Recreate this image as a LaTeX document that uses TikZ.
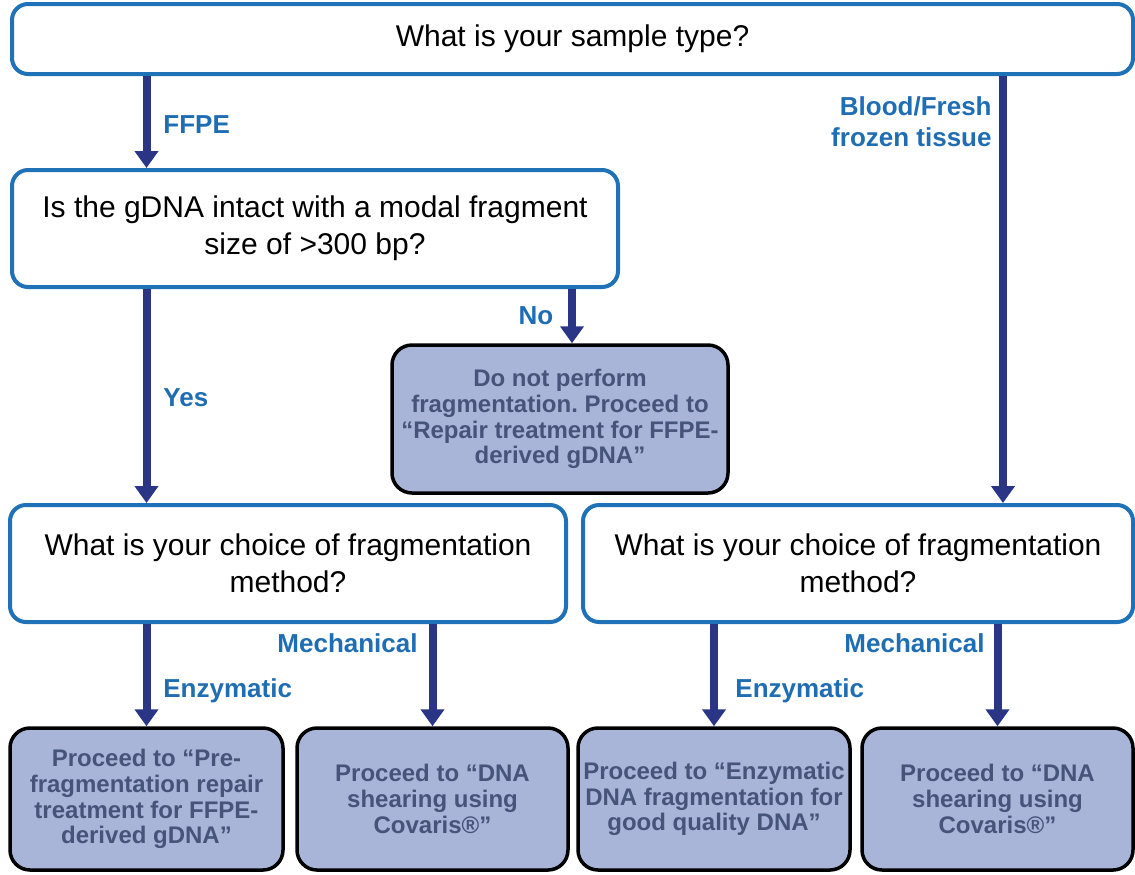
\documentclass[tikz,border=0pt]{standalone}
\usepackage{fontspec}
\setmainfont{Liberation Sans}
\usetikzlibrary{positioning,arrows.meta}
\frenchspacing

\definecolor{qblue}{HTML}{1F72B8}
\definecolor{lblue}{HTML}{1F6DB3}
\definecolor{navy}{HTML}{2B3585}
\definecolor{pfill}{HTML}{A8B4D8}
\definecolor{ptext}{HTML}{47547A}

\tikzset{
  qbox/.style={draw=qblue, line width=2pt, rounded corners=8pt, fill=white,
    align=center, inner sep=0pt, font=\fontsize{15}{18.5}\selectfont},
  pbox/.style={draw=black, line width=1.75pt, rounded corners=10pt, fill=pfill,
    text=ptext, align=center, inner sep=0pt, minimum width=136pt, minimum height=71pt,
    font=\bfseries\fontsize{12}{12.9}\selectfont},
  lbl/.style={text=lblue, inner sep=0pt, font=\bfseries\fontsize{13}{15.5}\selectfont},
  flow/.style={draw=navy, line width=4pt, -{Triangle[width=11.5pt,length=8.5pt]}}
}

\begin{document}
\begin{tikzpicture}[x=0.5pt, y=-0.5pt]
  \useasboundingbox[fill=white] (0,0) rectangle (1135,874);

  % questions
  \node[qbox, minimum width=560.5pt, minimum height=35pt] (q0) at (572.5, 39)
    {What is your sample type?};
  \node[qbox, minimum width=303pt, minimum height=58.5pt] (q1) at (315, 228.5)
    {Is the gDNA intact with a modal fragment\\size of >300 bp?};
  \node[qbox, minimum width=278pt, minimum height=58.5pt] (q2) at (288, 563.5)
    {What is your choice of fragmentation\\method?};
  \node[qbox, minimum width=275pt, minimum height=58.5pt] (q3) at (858, 563.5)
    {What is your choice of fragmentation\\method?};

  % outcomes
  \node[pbox, minimum width=168pt, minimum height=74pt] (nob) at (560, 419)
    {Do not perform\\fragmentation. Proceed to\\``Repair treatment for FFPE-\\derived gDNA''};
  \node[pbox, minimum width=136.5pt] (p1) at (146.5, 799)
    {Proceed to ``Pre-\\fragmentation repair\\treatment for FFPE-\\derived gDNA''};
  \node[pbox, minimum width=135.5pt] (p2) at (432.5, 799)
    {Proceed to ``DNA\\shearing using\\Covaris®''};
  \node[pbox] (p3) at (714, 799)
    {Proceed to ``Enzymatic\\DNA fragmentation for\\good quality DNA''};
  \node[pbox, minimum width=135.5pt] (p4) at (997.5, 799)
    {Proceed to ``DNA\\shearing using\\Covaris®''};

  \coordinate (nox) at ([xshift=6pt]nob.north);
  \coordinate (bfx) at ([xshift=2.75pt]p4.north);

  % arrows
  \draw[flow] (q0.south -| p1.north) -- (q1.north -| p1.north);
  \draw[flow] (q0.south -| bfx) -- (q3.north -| bfx);
  \draw[flow] (q1.south -| p1.north) -- (q2.north -| p1.north);
  \draw[flow] (q1.south -| nox) -- (nob.north -| nox);
  \draw[flow] (q2.south -| p1.north) -- (p1.north);
  \draw[flow] (q2.south -| p2.north) -- (p2.north);
  \draw[flow] (q3.south -| p3.north) -- (p3.north);
  \draw[flow] (q3.south -| p4.north) -- (p4.north);

  % labels
  \node[lbl, anchor=west] (lffpe) at (163, 125) {FFPE};
  \node[lbl, anchor=east, align=right] (lblood) at (992, 122) {Blood/Fresh\\frozen tissue};
  \node[lbl, anchor=west] (lyes) at (163, 398) {Yes};
  \node[lbl] (lno) at (536, 316) {No};
  \node[lbl, anchor=east] (lmech1) at (418, 643) {Mechanical};
  \node[lbl, anchor=west] (lenz1) at (163, 691) {Enzymatic};
  \node[lbl, anchor=west] (lenz2) at (735, 691) {Enzymatic};
  \node[lbl, anchor=east] (lmech2) at (985, 643) {Mechanical};
\end{tikzpicture}
\end{document}
